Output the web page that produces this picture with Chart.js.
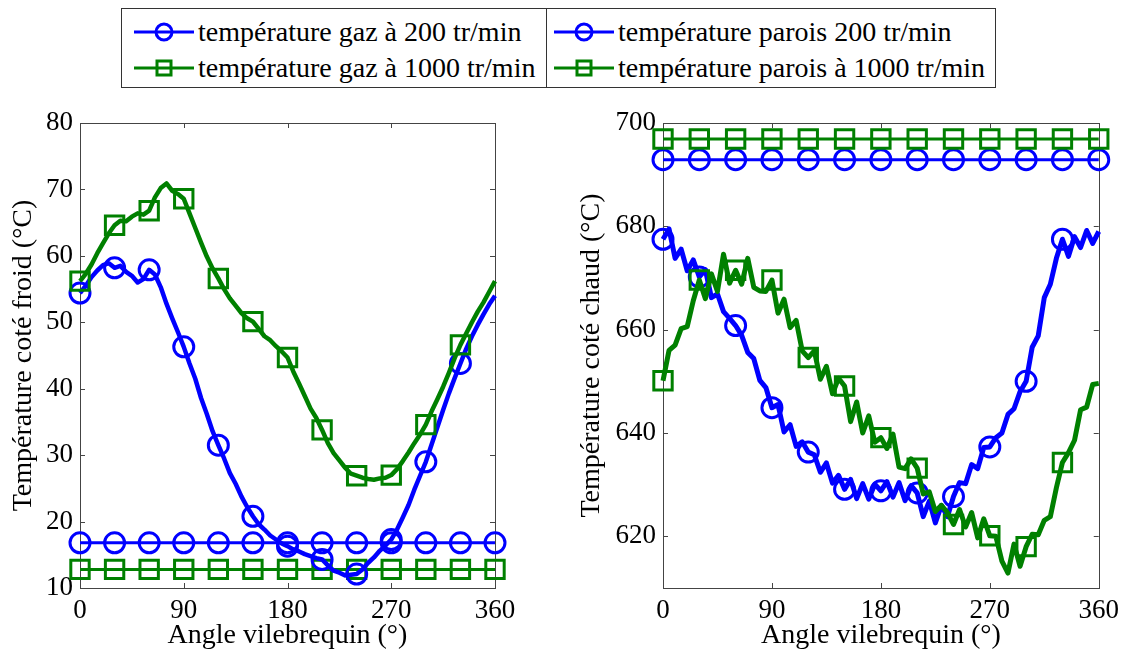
<!DOCTYPE html>
<html>
<head>
<meta charset="utf-8">
<script src="https://cdn.jsdelivr.net/npm/chart.js@4.4.0/dist/chart.umd.min.js"></script>
<style>
  body { margin: 0; background: #fff; width: 1126px; height: 653px; position: relative; overflow: hidden; font-family: "Liberation Serif", "Times New Roman", serif; }
  canvas { position: absolute; }
  #legend { position: absolute; left: 121px; top: 8px; width: 873px; height: 78px; border: 1px solid #333; }
  #legend .sep { position: absolute; left: 424px; top: 0; width: 1px; height: 78px; background: #333; }
  #legend .item { position: absolute; height: 34px; display: flex; align-items: center; font-size: 28px; color: #000; white-space: nowrap; }
  #legend svg { margin-right: 4px; }
</style>
</head>
<body>
<div id="legend"><div class="sep"></div></div>
<canvas id="cold" width="560" height="558" style="left:0;top:95px"></canvas>
<canvas id="hot" width="566" height="558" style="left:560px;top:95px"></canvas>
<script>
// crank angle (deg) of the measured curves
var angles = [0, 5, 10, 15, 20, 25, 30, 35, 40, 45, 50, 55, 60, 65, 70, 75, 80, 85, 90,
  95, 100, 105, 110, 115, 120, 125, 130, 135, 140, 145, 150, 155, 160, 165, 170, 175, 180,
  185, 190, 195, 200, 205, 210, 215, 220, 225, 230, 235, 240, 245, 250, 255, 260, 265, 270,
  275, 280, 285, 290, 295, 300, 305, 310, 315, 320, 325, 330, 335, 340, 345, 350, 355, 360];
// crank angle of the wall lines (markers only)
var wallAngles = [0, 30, 60, 90, 120, 150, 180, 210, 240, 270, 300, 330, 360];

// cold side (°C)
var coldGas200 = [54.4, 55.5, 56.8, 57.8, 58.6, 58.9, 58.2, 58.5, 57.6, 57.0, 56.0, 56.5, 57.9,
  57.2, 55.3, 52.8, 50.6, 48.5, 46.3, 43.8, 41.5, 38.6, 36.2, 33.6, 31.5, 29.5, 27.3, 25.7,
  23.8, 22.2, 20.8, 19.6, 18.8, 17.9, 17.3, 16.7, 16.3, 15.8, 15.5, 15.1, 14.8, 14.5, 14.3,
  13.4, 12.6, 12.3, 11.9, 12.0, 12.1, 12.8, 13.8, 14.6, 15.6, 16.4, 17.3, 18.8, 20.6, 22.5,
  24.8, 26.9, 29.0, 31.6, 34.2, 36.8, 39.3, 41.6, 43.8, 46.0, 47.9, 49.6, 51.2, 52.7, 54.0];
var coldGas1000 = [56.2, 57.3, 58.7, 60.4, 61.9, 63.4, 64.6, 65.3, 65.2, 65.9, 66.4, 66.2, 66.8,
  68.8, 70.2, 70.9, 69.8, 69.3, 68.6, 66.4, 64.2, 62.0, 59.9, 58.1, 56.6, 55.0, 53.6, 52.5,
  51.4, 50.6, 50.1, 49.0, 47.9, 47.3, 46.4, 45.6, 44.7, 42.6, 40.8, 38.9, 37.0, 35.6, 33.8,
  31.8, 30.3, 29.2, 28.1, 27.2, 26.9, 26.6, 26.4, 26.3, 26.5, 26.6, 27.0, 27.9, 29.1, 30.4,
  31.8, 33.1, 34.6, 36.6, 38.4, 40.3, 42.4, 44.6, 46.6, 48.3, 50.0, 51.6, 53.0, 54.6, 56.2];
var coldWall200 = [16.8, 16.8, 16.8, 16.8, 16.8, 16.8, 16.8, 16.8, 16.8, 16.8, 16.8, 16.8, 16.8];
var coldWall1000 = [12.8, 12.8, 12.8, 12.8, 12.8, 12.8, 12.8, 12.8, 12.8, 12.8, 12.8, 12.8, 12.8];

// hot side (°C), noisy signals
var hotGas200 = [677.5, 679.5, 673.8, 675.6, 671.4, 673.5, 670.2, 671.6, 666.2, 666.9, 663.5,
  662.2, 660.8, 658.9, 655.6, 654.4, 650.2, 648.8, 644.9, 645.5, 640.2, 641.6, 637.4, 638.3,
  636.3, 635.8, 632.4, 634.2, 630.3, 631.8, 629.1, 631.0, 627.3, 630.2, 627.2, 630.1, 628.8,
  630.6, 627.6, 630.4, 626.9, 629.8, 628.4, 623.8, 626.8, 622.6, 626.0, 623.8, 627.7, 630.4,
  630.2, 633.9, 633.1, 637.2, 637.3, 639.1, 640.0, 643.6, 644.7, 648.0, 650.0, 656.6, 658.8,
  666.2, 668.8, 673.8, 677.5, 674.2, 678.0, 675.9, 679.2, 676.7, 679.0];
var hotGas1000 = [650.1, 656.0, 657.0, 660.2, 660.6, 665.6, 669.6, 666.0, 670.8, 667.4, 674.6,
  669.0, 671.5, 668.8, 673.8, 668.2, 667.5, 667.4, 669.6, 663.2, 665.9, 660.4, 661.8, 655.9,
  654.6, 655.9, 650.4, 652.9, 647.6, 650.6, 649.1, 642.2, 646.0, 640.0, 643.3, 638.2, 639.1,
  637.0, 639.8, 633.4, 633.1, 635.0, 633.2, 628.2, 628.6, 624.8, 626.0, 624.6, 622.3, 625.2,
  621.8, 624.6, 619.7, 623.4, 620.1, 620.0, 615.2, 612.9, 618.5, 614.2, 618.0, 620.4, 620.3,
  623.1, 623.8, 629.4, 634.3, 636.2, 638.6, 644.5, 645.0, 649.4, 649.6];
var hotWall200 = [692.9, 692.9, 692.9, 692.9, 692.9, 692.9, 692.9, 692.9, 692.9, 692.9, 692.9, 692.9, 692.9];
var hotWall1000 = [696.9, 696.9, 696.9, 696.9, 696.9, 696.9, 696.9, 696.9, 696.9, 696.9, 696.9, 696.9, 696.9];

var xTicks = [0, 90, 180, 270, 360];
var coldTicks = [10, 20, 30, 40, 50, 60, 70, 80];
var hotTicks = [620, 640, 660, 680, 700];

var legendLabels = ['température gaz à 200 tr/min', 'température gaz à 1000 tr/min',
  'température parois 200 tr/min', 'température parois à 1000 tr/min'];

var BLUE = '#0000ff', GREEN = '#008000';
var FONT = "'Liberation Serif', 'Times New Roman', serif";

function points(xs, ys) {
  return xs.map(function (x, i) { return { x: x, y: ys[i] }; });
}

function series(xs, ys, color, style, radius, lineWidth, allMarkers) {
  return {
    data: points(xs, ys),
    borderColor: color,
    backgroundColor: 'transparent',
    borderWidth: lineWidth,
    borderJoinStyle: 'round',
    pointStyle: style,
    pointBorderColor: color,
    pointBackgroundColor: 'transparent',
    pointBorderWidth: 3,
    pointRadius: function (ctx) {
      var a = xs[ctx.dataIndex];
      if (allMarkers) return radius;
      return (a % 30 === 0 && a < 360) ? radius : 0;
    },
    pointHoverRadius: 0,
    tension: 0,
    clip: false
  };
}

// box around the plot with inward ticks, like matlab
var framePlugin = {
  id: 'frame',
  beforeDatasetsDraw: function (chart) {
    var a = chart.chartArea, ctx = chart.ctx, sx = chart.scales.x, sy = chart.scales.y;
    ctx.save();
    ctx.strokeStyle = '#444';
    ctx.lineWidth = 1;
    ctx.strokeRect(Math.round(a.left) + 0.5, Math.round(a.top) + 0.5,
      Math.round(a.right - a.left), Math.round(a.bottom - a.top));
    ctx.beginPath();
    sx.ticks.forEach(function (t) {
      var px = Math.round(sx.getPixelForValue(t.value)) + 0.5;
      ctx.moveTo(px, a.bottom); ctx.lineTo(px, a.bottom - 5);
      ctx.moveTo(px, a.top); ctx.lineTo(px, a.top + 5);
    });
    sy.ticks.forEach(function (t) {
      var py = Math.round(sy.getPixelForValue(t.value)) + 0.5;
      ctx.moveTo(a.left, py); ctx.lineTo(a.left + 5, py);
      ctx.moveTo(a.right, py); ctx.lineTo(a.right - 5, py);
    });
    ctx.stroke();
    ctx.restore();
  }
};

function makeOptions(yMin, yMax, tickList, yTitle, yWidth, padRight, titlePad) {
  return {
    responsive: false,
    animation: false,
    events: [],
    layout: { padding: { top: 28, right: padRight, left: 0, bottom: 0 } },
    plugins: { legend: { display: false }, tooltip: { enabled: false } },
    scales: {
      x: {
        type: 'linear', min: 0, max: 360,
        afterBuildTicks: function (s) { s.ticks = xTicks.map(function (v) { return { value: v }; }); },
        afterFit: function (s) { s.height = 65; },
        grid: { display: false, drawTicks: false },
        border: { display: false },
        ticks: { padding: 7, color: '#000', font: { family: FONT, size: 27 }, maxRotation: 0 },
        title: { display: true, text: 'Angle vilebrequin (°)', color: '#000',
          font: { family: FONT, size: 28 }, padding: { top: 0, bottom: 1 } }
      },
      y: {
        type: 'linear', min: yMin, max: yMax,
        ticks: { padding: 7, color: '#000', font: { family: FONT, size: 27 } },
        afterBuildTicks: function (s) { s.ticks = tickList.map(function (v) { return { value: v }; }); },
        afterFit: function (s) { s.width = yWidth; },
        grid: { display: false, drawTicks: false },
        border: { display: false },
        title: { display: true, text: yTitle, color: '#000',
          font: { family: FONT, size: 28 }, padding: { top: titlePad, bottom: 0 } }
      }
    }
  };
}

new Chart(document.getElementById('cold'), {
  type: 'line',
  data: {
    datasets: [
      series(angles, coldGas1000, GREEN, 'rect', 13, 4.5, false),
      series(angles, coldGas200, BLUE, 'circle', 10, 4.5, false),
      series(wallAngles, coldWall1000, GREEN, 'rect', 13, 3, true),
      series(wallAngles, coldWall200, BLUE, 'circle', 10, 3, true)
    ]
  },
  options: makeOptions(10, 80, coldTicks, 'Température coté froid (°C)', 80, 65, 7),
  plugins: [framePlugin]
});

new Chart(document.getElementById('hot'), {
  type: 'line',
  data: {
    datasets: [
      series(wallAngles, hotWall1000, GREEN, 'rect', 13, 3, true),
      series(wallAngles, hotWall200, BLUE, 'circle', 10, 3, true),
      series(angles, hotGas1000, GREEN, 'rect', 13, 5, false),
      series(angles, hotGas200, BLUE, 'circle', 10, 5, false)
    ]
  },
  options: makeOptions(610, 700, hotTicks, 'Température coté chaud (°C)', 103, 23, 15),
  plugins: [framePlugin]
});

// shared legend box (2 x 2)
var legendSpots = [[12, 6], [12, 42], [432, 6], [432, 42]];
var legendColors = [BLUE, GREEN, BLUE, GREEN];
var legendShapes = ['circle', 'rect', 'circle', 'rect'];
var legend = document.getElementById('legend');
legendLabels.forEach(function (label, i) {
  var item = document.createElement('div');
  item.className = 'item';
  item.style.left = legendSpots[i][0] + 'px';
  item.style.top = legendSpots[i][1] + 'px';
  var c = legendColors[i];
  var mark = legendShapes[i] === 'circle'
    ? '<circle cx="30" cy="12" r="8" fill="none" stroke="' + c + '" stroke-width="3"/>'
    : '<rect x="23" y="5" width="14" height="14" fill="none" stroke="' + c + '" stroke-width="3"/>';
  item.innerHTML = '<svg width="60" height="24"><line x1="0" y1="12" x2="60" y2="12" stroke="' + c +
    '" stroke-width="3"/>' + mark + '</svg><span>' + label + '</span>';
  legend.appendChild(item);
});
</script>
</body>
</html>
